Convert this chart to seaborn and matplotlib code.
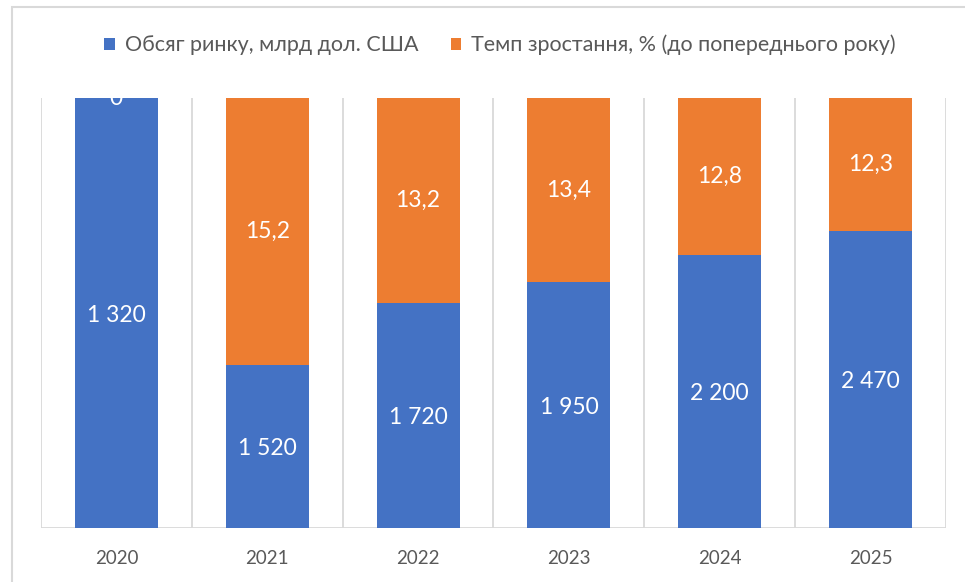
import matplotlib
matplotlib.use("Agg")
import matplotlib.pyplot as plt
import seaborn as sns
import pandas as pd
from matplotlib.patches import Rectangle, Patch

# ---- data ----
years = ["2020", "2021", "2022", "2023", "2024", "2025"]
market_volume = [1320, 1520, 1720, 1950, 2200, 2470]          # labels, blue series
growth_rate = [0, 15.2, 13.2, 13.4, 12.8, 12.3]               # labels, orange series
blue_share = [100, 37.9, 52.4, 57.2, 63.5, 69.1]              # visual share (%) of bar height
legend_labels = ["Обсяг ринку, млрд дол. США", "Темп зростання, % (до попереднього року)"]

BLUE = "#4472C4"
ORANGE = "#ED7D31"
GRAY_TXT = "#595959"
GRID = "#D9D9D9"

sns.set_style("white")
plt.rcParams["font.family"] = ["Lato", "DejaVu Sans"]

df = pd.DataFrame({"year": years, "blue": blue_share,
                   "total": [100.0] * len(years)})

fig = plt.figure(figsize=(9.65, 5.82), dpi=100)
ax = fig.add_axes([41 / 965, 1 - 528 / 582, (946 - 41) / 965, (528 - 98) / 582])

sns.barplot(data=df, x="year", y="total", color=ORANGE, width=0.55,
            saturation=1, ax=ax, linewidth=0)
sns.barplot(data=df, x="year", y="blue", color=BLUE, width=0.55,
            saturation=1, ax=ax, linewidth=0)

ax.set_xlim(-0.5, len(years) - 0.5)
ax.set_ylim(0, 100)
ax.set_xlabel("")
ax.set_ylabel("")
ax.set_yticks([])
for s in ax.spines.values():
    s.set_visible(False)

# category separators and baseline
for i in range(len(years) + 1):
    ax.axvline(i - 0.5, color=GRID, lw=1.3, zorder=0)
ax.axhline(0, color=GRID, lw=1.3, zorder=0)

ax.tick_params(axis="x", length=0, pad=16, labelsize=13.5, labelcolor=GRAY_TXT)

def fmt_thousands(v):
    return f"{v:,}".replace(",", " ")

def fmt_dec(v):
    if v == 0:
        return "0"
    return f"{v:.1f}".replace(".", ",")

for i, (vb, vo, sb) in enumerate(zip(market_volume, growth_rate, blue_share)):
    ax.text(i, sb / 2 - 0.5, fmt_thousands(vb), ha="center", va="center",
            color="white", fontsize=16.5, clip_on=True)
    ax.text(i, sb + (100 - sb) / 2 if sb < 100 else 99.8, fmt_dec(vo),
            ha="center", va="center", color="white", fontsize=16.5, clip_on=True)

handles = [Patch(facecolor=BLUE, edgecolor="none"), Patch(facecolor=ORANGE, edgecolor="none")]
fig.legend(handles, legend_labels, loc="center", bbox_to_anchor=(500 / 965, 1 - 45 / 582),
           ncol=2, frameon=False, fontsize=15.5, handlelength=0.5, handleheight=0.5,
           handletextpad=0.45, columnspacing=1.5, labelcolor=GRAY_TXT)

# chart frame
fig.patches.append(Rectangle((12 / 965, -0.1), 1.2, 1 - 7 / 582 + 0.1,
                             transform=fig.transFigure, fill=False,
                             edgecolor=GRID, lw=1.5))

fig.savefig("out.png", dpi=100)
